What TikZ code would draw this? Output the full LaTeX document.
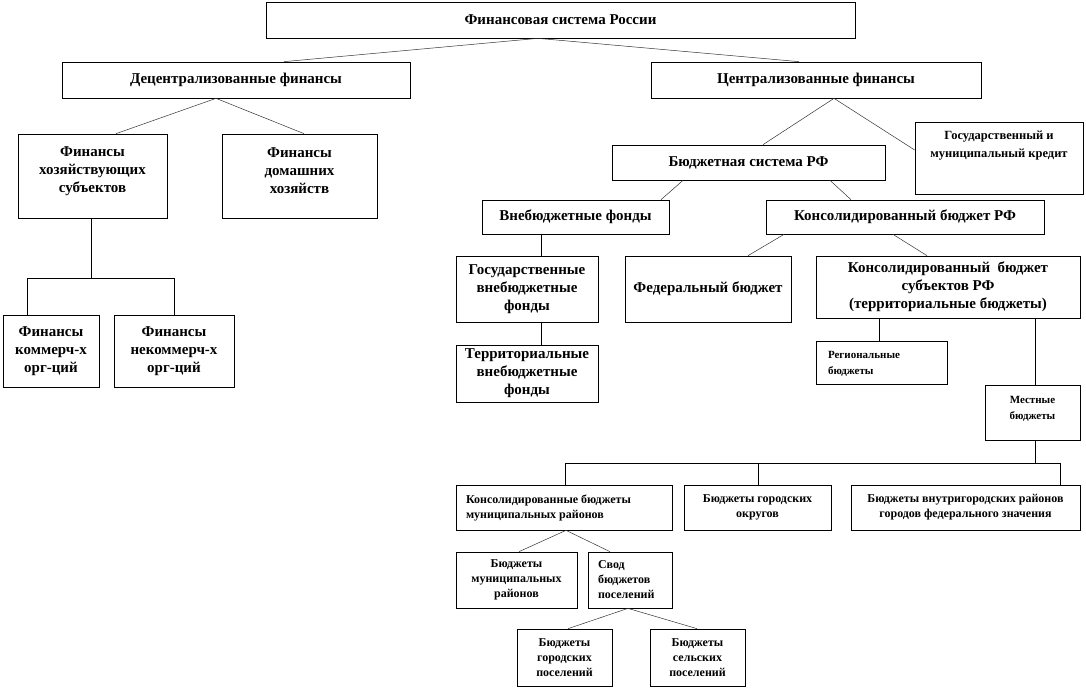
\documentclass[tikz,border=0pt]{standalone}
\usepackage{fontspec}
\setmainfont{Liberation Serif}
\begin{document}
\begin{tikzpicture}[x=1pt,y=-1pt,
  box/.style={draw=black, line width=0.7pt, inner sep=0pt, align=center, font=\bfseries\fontsize{15}{18}\selectfont},
  sbox/.style={box, font=\bfseries\fontsize{12}{15}\selectfont},
  kbox/.style={box, font=\bfseries\fontsize{12.5}{18}\selectfont},
  xsbox/.style={box, font=\bfseries\fontsize{11}{16}\selectfont},
  txt/.style={draw=none},
  conn/.style={draw=black!80, line width=0.5pt},
  vconn/.style={draw=black, line width=0.7pt}]
\useasboundingbox (0,0) rectangle (1086,689);
% boxes
\node[box, minimum width=589, minimum height=36] (top) at (560.5,20) {Финансовая система России};
\node[box, minimum width=348, minimum height=36] (dec) at (236,80) {Децентрализованные финансы};
\node[box, minimum width=330, minimum height=36] (cen) at (816,80) {Централизованные финансы};
\node[box, minimum width=149, minimum height=84,
  label={[box, txt, yshift=5pt]center:Финансы\\хозяйствующих\\субъектов}] (hoz) at (92.5,176) {};
\node[box, minimum width=155, minimum height=84,
  label={[box, txt, yshift=5pt]center:Финансы\\домашних\\хозяйств}] (dom) at (299.5,176) {};
\node[kbox, minimum width=168, minimum height=72,
  label={[kbox, txt, anchor=north, yshift=-9pt]north:Государственный и\\муниципальный кредит}] (kred) at (999,158) {};
\node[box, minimum width=273, minimum height=35] (bs) at (748.5,162.5) {Бюджетная система РФ};
\node[box, minimum width=187, minimum height=34] (vbf) at (575.5,217) {Внебюджетные фонды};
\node[box, minimum width=278, minimum height=34] (kbrf) at (905,217) {Консолидированный бюджет РФ};
\node[box, minimum width=142, minimum height=66] (gvf) at (527,289) {Государственные\\внебюджетные\\фонды};
\node[box, minimum width=166, minimum height=66] (fed) at (708,289) {Федеральный бюджет};
\node[box, minimum width=264, minimum height=62] (kbs) at (948,287) {Консолидированный\ \ бюджет\\субъектов РФ\\(территориальные бюджеты)};
\node[box, minimum width=96, minimum height=72] (kom) at (51,351) {Финансы\\коммерч-х\\орг-ций};
\node[box, minimum width=120, minimum height=72] (nekom) at (174,351) {Финансы\\некоммерч-х\\орг-ций};
\node[box, minimum width=142, minimum height=57] (tvf) at (527,373.5) {Территориальные\\внебюджетные\\фонды};
\node[xsbox, minimum width=131, minimum height=43,
  label={[xsbox, txt, align=left, anchor=west, xshift=12pt, yshift=-1pt]west:Региональные\\бюджеты}] (reg) at (881.5,362.5) {};
\node[xsbox, minimum width=95, minimum height=55,
  label={[xsbox, txt, anchor=north, yshift=-11pt]north:Местные\\бюджеты}] (mest) at (1032.5,412.5) {};
\node[sbox, minimum width=216, minimum height=45,
  label={[sbox, txt, align=left, anchor=west, xshift=10pt]west:Консолидированные бюджеты\\муниципальных районов}] (kmr) at (564,507.5) {};
\node[sbox, minimum width=147, minimum height=45] (go) at (757.5,507.5) {Бюджеты городских\\округов};
\node[sbox, minimum width=229, minimum height=45] (vgr) at (965.5,507.5) {Бюджеты внутригородских районов\\городов федерального значения};
\node[sbox, minimum width=121, minimum height=56] (bmr) at (516.5,580) {Бюджеты\\муниципальных\\районов};
\node[sbox, minimum width=84, minimum height=56,
  label={[sbox, txt, align=left, anchor=west, xshift=10pt]west:Свод\\бюджетов\\поселений}] (svod) at (630,580) {};
\node[sbox, minimum width=95, minimum height=57] (gp) at (564.5,657.5) {Бюджеты\\городских\\поселений};
\node[sbox, minimum width=95, minimum height=57] (sp) at (697.5,657.5) {Бюджеты\\сельских\\поселений};
% helper coordinates
\coordinate (vx) at (541,0);
\coordinate (rx) at (879,0);
\coordinate (mx) at (1035,0);
\coordinate (barL) at (565,463);
\coordinate (barM) at (758,463);
\coordinate (barJ) at (1035,463);
\coordinate (barR) at (1060,463);
\coordinate (hb) at (91,278);
\coordinate (hbL) at (27,278);
\coordinate (hbR) at (174,278);
% slanted connectors
\draw[conn] ([xshift=-22.5pt]top.south) -- ([xshift=48pt]dec.north);
\draw[conn] ([xshift=-22.5pt]top.south) -- ([xshift=-17pt]cen.north);
\draw[conn] ([xshift=-20pt]dec.south) -- ([xshift=23.5pt]hoz.north);
\draw[conn] ([xshift=-20pt]dec.south) -- ([xshift=4.5pt]dom.north);
\draw[conn] ([xshift=18pt]cen.south) -- ([xshift=14.5pt]bs.north);
\draw[conn] ([xshift=18pt]cen.south) -- ([yshift=8pt]kred.west);
\draw[conn] ([xshift=-65.5pt]bs.south) -- ([xshift=85.5pt]vbf.north);
\draw[conn] ([xshift=81.5pt]bs.south) -- ([xshift=-54pt]kbrf.north);
\draw[conn] ([xshift=-121pt]kbrf.south) -- ([xshift=40pt]fed.north);
\draw[conn] ([xshift=-12pt]kbrf.south) -- ([xshift=-21pt]kbs.north);
\draw[conn] ([xshift=2pt]kmr.south) -- ([xshift=2.5pt]bmr.north);
\draw[conn] ([xshift=2pt]kmr.south) -- ([xshift=-20pt]svod.north);
\draw[conn] ([xshift=-2pt]svod.south) -- ([xshift=3.5pt]gp.north);
\draw[conn] ([xshift=-2pt]svod.south) -- ([xshift=-0.5pt]sp.north);
% vertical connectors
\draw[vconn] (vbf.south -| vx) -- (gvf.north -| vx);
\draw[vconn] (gvf.south -| vx) -- (tvf.north -| vx);
\draw[vconn] (kbs.south -| rx) -- (reg.north -| rx);
\draw[vconn] (kbs.south -| mx) -- (mest.north -| mx);
\draw[vconn] (mest.south -| mx) -- (barJ);
\draw[vconn] (barL) -- (barR);
\draw[vconn] (barL) -- (kmr.north -| barL);
\draw[vconn] (barM) -- (go.north -| barM);
\draw[vconn] (barR) -- (vgr.north -| barR);
\draw[vconn] (hoz.south -| hb) -- (hb);
\draw[vconn] (hbL) -- (hbR);
\draw[vconn] (hbL) -- (kom.north -| hbL);
\draw[vconn] (hbR) -- (nekom.north -| hbR);
\end{tikzpicture}
\end{document}
